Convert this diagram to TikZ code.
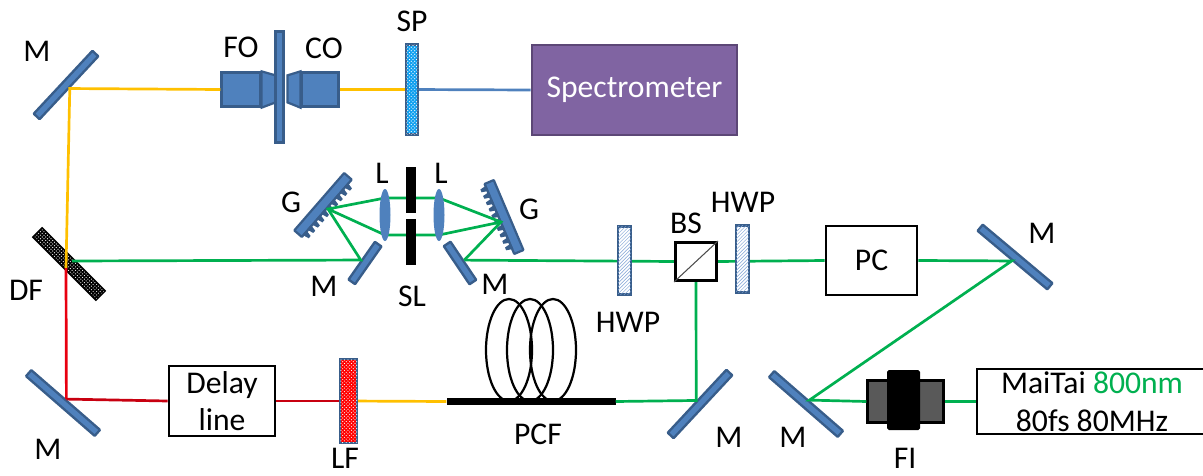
\documentclass[tikz,border=0pt]{standalone}
\usepackage{fontspec}
\usepackage{xcolor}
\usepackage{tikz}
\usetikzlibrary{shapes.geometric,patterns}
\setmainfont{Carlito}
\definecolor{opticblue}{HTML}{4F81BD}
\definecolor{opticedge}{HTML}{385D8A}
\definecolor{beamgreen}{HTML}{00B050}
\definecolor{beamyellow}{HTML}{FFC000}
\definecolor{beamred}{HTML}{E80010}
\definecolor{beamdark}{HTML}{C80010}
\definecolor{specpurple}{HTML}{8064A2}
\definecolor{specedge}{HTML}{5C4776}
\definecolor{spblue}{HTML}{10A0F0}
\definecolor{hatchblue}{HTML}{7FA3D6}
\newcommand{\px}{0.03cm}
\pgfdeclarelayer{front}
\pgfsetlayers{main,front}

\begin{document}
\begin{tikzpicture}[x=0.03cm,y=-0.03cm,
  lbl/.style={inner sep=0pt,font=\fontsize{27}{32}\selectfont},
  mirror/.style={draw=opticedge,line width=2pt,fill=opticblue,rounded corners=0.5pt,inner sep=0pt,minimum height=8*\px},
  optic/.style={draw=opticedge,line width=1.9pt,fill=opticblue,inner sep=0pt},
  box/.style={draw=black,line width=2.5pt,fill=white,inner sep=0pt,align=center,font=\fontsize{27}{32}\selectfont},
  filterbox/.style={draw=opticedge,line width=2.2pt,inner sep=0pt,postaction={pattern=crosshatch dots,pattern color=white}},
  waveplate/.style={draw=opticedge,line width=2.2pt,fill=white,inner sep=0pt,minimum width=13*\px,postaction={pattern=north east lines,pattern color=hatchblue}},
  lens/.style={ellipse,fill=opticblue,inner sep=0pt,minimum width=11*\px,minimum height=52*\px},
  slit/.style={rectangle,fill=black,inner sep=0pt,minimum width=10*\px,minimum height=46*\px},
  coil/.style={ellipse,draw=black,line width=1.9pt,inner sep=0pt,minimum width=46*\px,minimum height=102*\px},
  beam/.style={line width=2.3pt}]
  \path[use as bounding box,clip] (0,0) rectangle (1203,476);
  \foreach \name/\cx/\cy/\ang/\len in {Ma/66/85/47/86,Mb/365/263/55/46,Mc/460/263/-56/46,Md/63/403/-41/91,Me/700/404/47/86,Mf/806/404/-41/91,Mg/1015/257/-40/91}
    \node[mirror,rotate=\ang,minimum width=\len*\px] (\name) at (\cx,\cy) {};
  % gratings with their teeth
  \foreach \name/\cx/\cy/\ang in {Ga/323/205/49,Gb/504/217/-67} {
    \node[optic,rotate=\ang,rounded corners=0.5pt,minimum width=76*\px,minimum height=10*\px] (\name) at (\cx,\cy) {};
    \begin{scope}[shift={(\cx,\cy)},rotate=\ang]
      \foreach \t in {-36,-29,...,31}
        \fill[opticedge] (\t,4) -- (\t+1.5,11) -- (\t+4.5,11) -- (\t+6,4) -- cycle;
    \end{scope}
  }
  \node[filterbox,rotate=-45,fill=black,draw=black,minimum width=88*\px,minimum height=12*\px] (DF) at (69,264) {};
  \node[optic,minimum width=39*\px,minimum height=34*\px] (FObody) at (241,89.5) {};
  \draw[optic] (FObody.north east) -- ++(14,4) -- ++(0,27) -- (FObody.south east) -- cycle;
  \node[optic,minimum width=37*\px,minimum height=34*\px] (CObody) at (320,89.5) {};
  \draw[optic] (CObody.north west) -- ++(-13,4) -- ++(0,27) -- (CObody.south west) -- cycle;
  \node[optic,minimum width=8*\px,minimum height=111*\px] (plate) at (279.5,87) {};
  \node[draw=specedge,line width=2.2pt,fill=specpurple,text=white,inner sep=0pt,minimum width=205*\px,minimum height=90*\px,font=\fontsize{27}{32}\selectfont] (spec) at (634.5,90) {Spectrometer};
  \node[box,minimum width=106*\px,minimum height=70*\px] (delay) at (222,401) {Delay\\line};
  \node[box,minimum width=91*\px,minimum height=69*\px] (PC) at (871.5,260.5) {PC};
  \node[box,minimum width=230*\px,minimum height=65*\px] (laser) at (1092,401.5) {MaiTai \textcolor{beamgreen}{800nm}\\80fs 80MHz};
  \node[draw=black,line width=2pt,fill=black!65,inner sep=0pt,minimum width=76*\px,minimum height=42*\px] (FIbody) at (905.5,401.5) {};
  \node[fill=black,rounded corners=1.5pt,inner sep=0pt,minimum width=33*\px,minimum height=60*\px] (FI) at (903.5,400) {};
  \foreach \i/\cx in {a/509,b/530,c/553}
    \node[coil] (coil\i) at (\cx,350) {};
  \node[fill=black,inner sep=0pt,minimum width=169*\px,minimum height=7*\px] (PCF) at (531,401.5) {};
  \begin{pgfonlayer}{front}
    \node[filterbox,fill=spblue,minimum width=12*\px,minimum height=90*\px] (SP) at (412,89.5) {};
    \node[filterbox,fill=red,minimum width=17*\px,minimum height=84*\px] (LF) at (348.5,401) {};
    \node[waveplate,minimum height=68*\px] (HWPa) at (624.5,260.5) {};
    \node[waveplate,minimum height=67*\px] (HWPb) at (742.5,259) {};
    \node[box,minimum width=41*\px,minimum height=38*\px] (BS) at (696,261.5) {};
    \draw[black!70,line width=0.9pt] (BS.south west) -- (BS.north east);
    \node[lens] (La) at (385,215) {};
    \node[lens] (Lb) at (439,215) {};
    \node[slit] (SLa) at (411,190) {};
    \node[slit] (SLb) at (411,241.5) {};
  \end{pgfonlayer}
  \coordinate (DFy) at (66,268);
  \coordinate (DFg) at (72,261);
  \coordinate (hitGa) at (328,209);
  \coordinate (hitGb) at (501,222);
  \coordinate (Laup) at (385,198);
  \coordinate (Ladn) at (385,235);
  \coordinate (Lbup) at (439,198);
  \coordinate (Lbdn) at (439,235);
  \draw[beam,beamyellow] (FObody.west) -- (Ma.south) -- (DFy);
  \draw[beam,beamyellow] (CObody.east) -- (SP.center);
  \draw[beam,opticblue] (SP.center) -- (spec.west);
  \draw[beam,beamred] (DFy) -- (Md.north);
  \draw[beam,beamdark] (Md.north) -- (delay.west);
  \draw[beam,beamdark] (delay.east) -- (LF.center);
  \draw[beam,beamyellow] (LF.center) -- (PCF.west);
  \draw[beam,beamgreen] (DFg) -- (Mb.north) -- (hitGa) -- (Laup) -- (Lbup) -- (hitGb) -- (Mc.north);
  \draw[beam,beamgreen] (hitGa) -- (Ladn) -- (Lbdn) -- (hitGb);
  \draw[beam,beamgreen] (Mc.north) -- (BS.west);
  \draw[beam,beamgreen] (BS.east) -- (PC.west);
  \draw[beam,beamgreen] (PC.east) -- (Mg.south) -- (Mf.north) -- (FIbody.west);
  \draw[beam,beamgreen] (FIbody.east) -- (laser.west);
  \draw[beam,beamgreen] (PCF.east) -- (Me.north) -- (BS.south);
  \foreach \name/\cx/\cy/\txt in {lMa/37/51/M,lFO/241/47/FO,lCO/324/48/CO,lSP/412/21/SP,lLa/382/173/L,lLb/441/173/L,lGa/291/202/G,lGb/529/209/G,lMb/324/286/M,lMc/495/284/M,lSL/412/296/SL,lDF/26/290/DF,lMd/48/449/M,lLF/345/458/LF,lPCF/538/434/PCF,lMe/729/437/M,lHWPa/628/322/HWP,lHWPb/743/202/HWP,lBS/686/223/BS,lMg/1042/233/M,lFI/905/458/FI,lMf/793/437/M}
    \node[lbl] (\name) at (\cx,\cy) {\txt};
\end{tikzpicture}
\end{document}
